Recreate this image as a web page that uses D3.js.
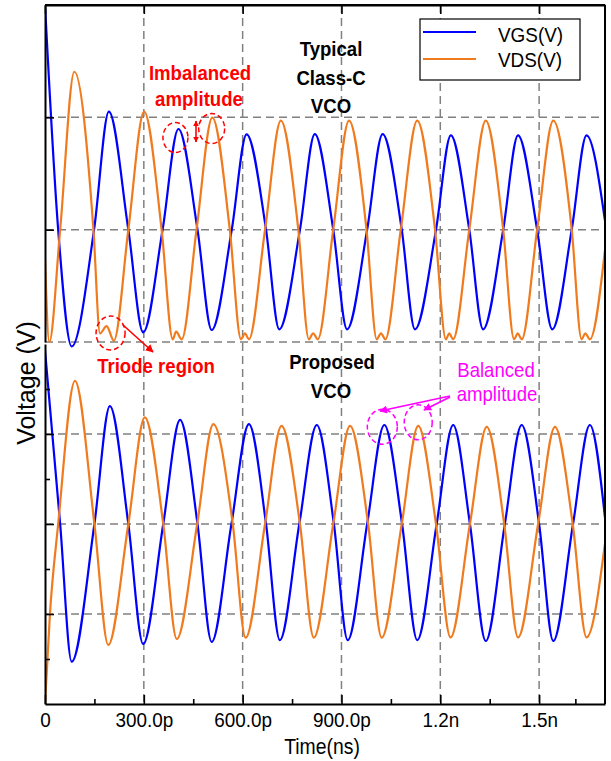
<!DOCTYPE html>
<html><head><meta charset="utf-8">
<script src="https://cdn.jsdelivr.net/npm/d3@7"></script>
<style>
body{margin:0;background:#fff}
text{font-family:"Liberation Sans",Arial,Helvetica,sans-serif}
</style>
</head><body>
<svg id="c" width="611" height="761"></svg>
<script>
// ---- data (time in ps, voltage in panel units) ----
const vgsTopT = [0,40,81,149,194,253,298,357,405,463,506,567,612,671,711,774,819,875,917,978,1025,1083,1123,1187,1232,1288,1330,1391,1436,1494,1540,1599,1644,1700];
const vgsTopV = [3.0,1.0,-0.04,1.0,2.05,1.0,0.086,1.0,1.896,1.0,0.107,1.0,1.849,1.0,0.113,1.0,1.85,1.0,0.113,1.0,1.85,1.0,0.113,1.0,1.84,1.0,0.113,1.0,1.84,1.0,0.113,1.0,1.84,1.08];
const vdsTopT = [0,13,46,89,147,167,187,209,253,301,354,388,398,415,460,508,561,595,607,619,668,716,769,801,814,828,875,923,976,1007,1020,1033,1080,1130,1184,1217,1227,1239,1288,1338,1391,1424,1435,1447,1494,1543,1599,1629,1640,1654,1700];
const vdsTopV = [0.745,0,1,2.406,1,0.077,0.142,0.012,1,2.05,1,0.024,0.092,0.024,1,1.997,1,0.024,0.077,0.024,1,1.97,1,0.024,0.077,0.024,1,1.97,1,0.024,0.077,0.024,1,1.97,1,0.024,0.077,0.024,1,1.97,1,0.024,0.077,0.024,1,1.97,1,0.024,0.077,0.024,0.82];
const vgsBotT = [0,46,81,150,197,253,298,359,410,463,506,566,619,671,713,772,825,877,919,978,1030,1084,1130,1189,1239,1290,1338,1396,1447,1500,1543,1603,1654,1700];
const vgsBotV = [3.93,2,0.47,2,3.31,2,0.667,2,3.156,2,0.69,2,3.11,2,0.71,2,3.1,2,0.71,2,3.1,2,0.71,2,3.1,2,0.70,2,3.1,2,0.70,2,3.1,2.07];
const vdsBotT = [0,15,40,91,150,192,253,303,359,400,462,511,570,609,668,718,774,816,875,926,981,1022,1083,1133,1187,1231,1290,1341,1394,1436,1497,1548,1602,1644,1700];
const vdsBotV = [0,1.0,2,3.59,2,0.656,2,3.185,2,0.722,2,3.11,2,0.737,2,3.09,2,0.737,2,3.09,2,0.737,2,3.09,2,0.74,2,3.08,2,0.74,2,3.08,2,0.74,1.785];

const xTickValues = [0,300,600,900,1200,1500];
const xTickLabels = ["0","300.0p","600.0p","900.0p","1.2n","1.5n"];
const xMinorTicks = [150,450,750,1050,1350,1610];
const yTopTicks = [1,2];
const yBotTicks = [1,2,3];
const yBotMinor = [0.5,1.5,2.5,3.5];
const seriesNames = ["VGS(V)","VDS(V)"];
const xTitle = "Time(ns)";
const yTitle = "Voltage (V)";

// ---- layout ----
const L=45, R=605, T=5, B=704;
const BLUE="#0000ff", ORANGE="#f07b1e", RED="#ff0000", MAG="#ff00ff", GRID="#808080";
const SX=0.9;

const svg = d3.select("#c");
const x = d3.scaleLinear().domain([0,1700]).range([L,R]);
const yTop = d3.scaleLinear().domain([0,3]).range([342,T]);
const yBot = d3.scaleLinear().domain([0,4]).range([B,344]);

const defs = svg.append("defs");
defs.append("clipPath").attr("id","clip").append("rect")
  .attr("x",L).attr("y",T).attr("width",R-L).attr("height",B-T);
function marker(id,color,size){
  defs.append("marker").attr("id",id).attr("viewBox","0 0 10 10")
    .attr("refX",9).attr("refY",5).attr("markerUnits","userSpaceOnUse")
    .attr("markerWidth",size).attr("markerHeight",size).attr("orient","auto-start-reverse")
    .append("path").attr("d","M0,0 L10,5 L0,10 Z").attr("fill",color);
}
marker("arrR",RED,8); marker("arrM",MAG,8); marker("arrRs",RED,6);

// ---- grid ----
const grid = svg.append("g").attr("stroke",GRID).attr("stroke-width",1.5).attr("stroke-dasharray","8,5");
grid.selectAll("line.v").data(xTickValues.slice(1)).join("line")
  .attr("x1",d=>x(d)).attr("x2",d=>x(d)).attr("y1",T).attr("y2",B);
grid.selectAll("line.ht").data([0,1,2]).join("line")
  .attr("x1",L).attr("x2",R).attr("y1",d=>yTop(d)).attr("y2",d=>yTop(d));
grid.selectAll("line.hb").data(yBotTicks).join("line").attr("class","hb")
  .attr("x1",L).attr("x2",R).attr("y1",d=>yBot(d)).attr("y2",d=>yBot(d));

// ---- curves ----
const plot = svg.append("g").attr("clip-path","url(#clip)");
function draw(ts,vs,y,color){
  const pts = ts.map((t,i)=>[t,vs[i]]);
  plot.append("path").datum(pts)
    .attr("d",d3.line().x(d=>x(d[0])).y(d=>y(d[1])).curve(d3.curveMonotoneX))
    .attr("fill","none").attr("stroke",color).attr("stroke-width",2.2).attr("stroke-linejoin","round");
}
draw(vgsTopT,vgsTopV,yTop,BLUE);
draw(vdsTopT,vdsTopV,yTop,ORANGE);
draw(vgsBotT,vgsBotV,yBot,BLUE);
draw(vdsBotT,vdsBotV,yBot,ORANGE);

// ---- axes ----
function styleAxis(g){
  g.select(".domain").attr("stroke","#000").attr("stroke-width",2);
  g.selectAll(".tick line").attr("stroke","#000").attr("stroke-width",1.6);
}
const xb = svg.append("g").attr("transform",`translate(0,${B})`)
  .call(d3.axisBottom(x).tickValues(xTickValues).tickFormat((d,i)=>xTickLabels[i])
    .tickSizeInner(-9).tickSizeOuter(0).tickPadding(8));
styleAxis(xb);
xb.selectAll(".tick text").attr("font-size",21).attr("fill","#000")
  .attr("font-family","'Liberation Sans',Arial,sans-serif").attr("transform",`scale(0.9,1)`);
const xbm = svg.append("g").attr("transform",`translate(0,${B})`)
  .call(d3.axisBottom(x).tickValues(xMinorTicks).tickFormat("").tickSizeInner(-5).tickSizeOuter(0));
xbm.select(".domain").remove(); styleAxis(xbm);
const xt = svg.append("g").attr("transform",`translate(0,${T})`)
  .call(d3.axisTop(x).tickValues(xTickValues).tickFormat("").tickSizeInner(-9).tickSizeOuter(0));
styleAxis(xt);
const ylt = svg.append("g").attr("transform",`translate(${L},0)`)
  .call(d3.axisLeft(yTop).tickValues(yTopTicks).tickFormat("").tickSizeInner(-9).tickSizeOuter(0));
styleAxis(ylt);
const ylb = svg.append("g").attr("transform",`translate(${L},0)`)
  .call(d3.axisLeft(yBot).tickValues(yBotTicks).tickFormat("").tickSizeInner(-9).tickSizeOuter(0));
styleAxis(ylb);
const ylbm = svg.append("g").attr("transform",`translate(${L},0)`)
  .call(d3.axisLeft(yBot).tickValues(yBotMinor).tickFormat("").tickSizeInner(-5).tickSizeOuter(0));
ylbm.select(".domain").remove(); styleAxis(ylbm);
svg.append("line").attr("x1",R).attr("x2",R).attr("y1",T).attr("y2",B).attr("stroke","#000").attr("stroke-width",2);
svg.append("line").attr("x1",L).attr("x2",R).attr("y1",T).attr("y2",T).attr("stroke","#000").attr("stroke-width",2);

// ---- text helper ----
function txt(px,py,s,o={}){
  return svg.append("text")
    .attr("transform",`translate(${px},${py}) ${o.rot?`rotate(${o.rot})`:""} scale(${o.sx||SX},1)`)
    .attr("text-anchor",o.anchor||"middle")
    .attr("font-size",o.size||20).attr("font-weight",o.bold?"bold":"normal")
    .attr("fill",o.color||"#000").text(s);
}
txt(322,754,xTitle,{size:22,sx:0.88});
txt(35,383,yTitle,{rot:-90,size:25,sx:1});

// ---- legend ----
const lg = svg.append("g");
lg.append("rect").attr("x",420).attr("y",19).attr("width",160).attr("height",61)
  .attr("fill","#fff").attr("stroke","#000").attr("stroke-width",1.2);
[[BLUE,32,42],[ORANGE,59,67]].forEach((c,i)=>{
  lg.append("line").attr("x1",423).attr("x2",476).attr("y1",c[1]).attr("y2",c[1])
    .attr("stroke",c[0]).attr("stroke-width",2);
  txt(498,c[2],seriesNames[i],{anchor:"start",size:21});
});

// ---- annotations ----
txt(331,56,"Typical",{bold:true,sx:0.93});
txt(331,85,"Class-C",{bold:true,sx:0.93});
txt(331,113,"VCO",{bold:true,sx:0.93});
txt(332,369,"Proposed",{bold:true,sx:0.93});
txt(331,398,"VCO",{bold:true,sx:0.93});
txt(200,80,"Imbalanced",{bold:true,color:RED,sx:0.93});
txt(199,106,"amplitude",{bold:true,color:RED,sx:0.93});
txt(156,373,"Triode region",{bold:true,color:RED,sx:0.93});
txt(496,377,"Balanced",{color:MAG,sx:0.93});
txt(497,401,"amplitude",{color:MAG,sx:0.93});

function ell(cx,cy,rx,ry,color){
  svg.append("ellipse").attr("cx",cx).attr("cy",cy).attr("rx",rx).attr("ry",ry)
    .attr("fill","none").attr("stroke",color).attr("stroke-width",1.5).attr("stroke-dasharray","5,3");
}
ell(x(396),yTop(1.82),12.5,15,RED);
ell(x(506),yTop(1.90),13,15,RED);
ell(x(199),yTop(0.08),14.5,17,RED);
ell(x(1024),yBot(3.08),15,17.5,MAG);
ell(x(1133),yBot(3.13),14,17.5,MAG);

svg.append("line").attr("x1",196).attr("x2",196).attr("y1",121).attr("y2",142)
  .attr("stroke",RED).attr("stroke-width",1.6)
  .attr("marker-start","url(#arrRs)").attr("marker-end","url(#arrRs)");
svg.append("line").attr("x1",123).attr("y1",325).attr("x2",153).attr("y2",352)
  .attr("stroke",RED).attr("stroke-width",1.6).attr("marker-end","url(#arrR)");
svg.append("line").attr("x1",450).attr("y1",396).attr("x2",380).attr("y2",411)
  .attr("stroke",MAG).attr("stroke-width",1.6).attr("marker-end","url(#arrM)");
svg.append("line").attr("x1",450).attr("y1",397).attr("x2",424).attr("y2",410)
  .attr("stroke",MAG).attr("stroke-width",1.6).attr("marker-end","url(#arrM)");
</script>
</body></html>
